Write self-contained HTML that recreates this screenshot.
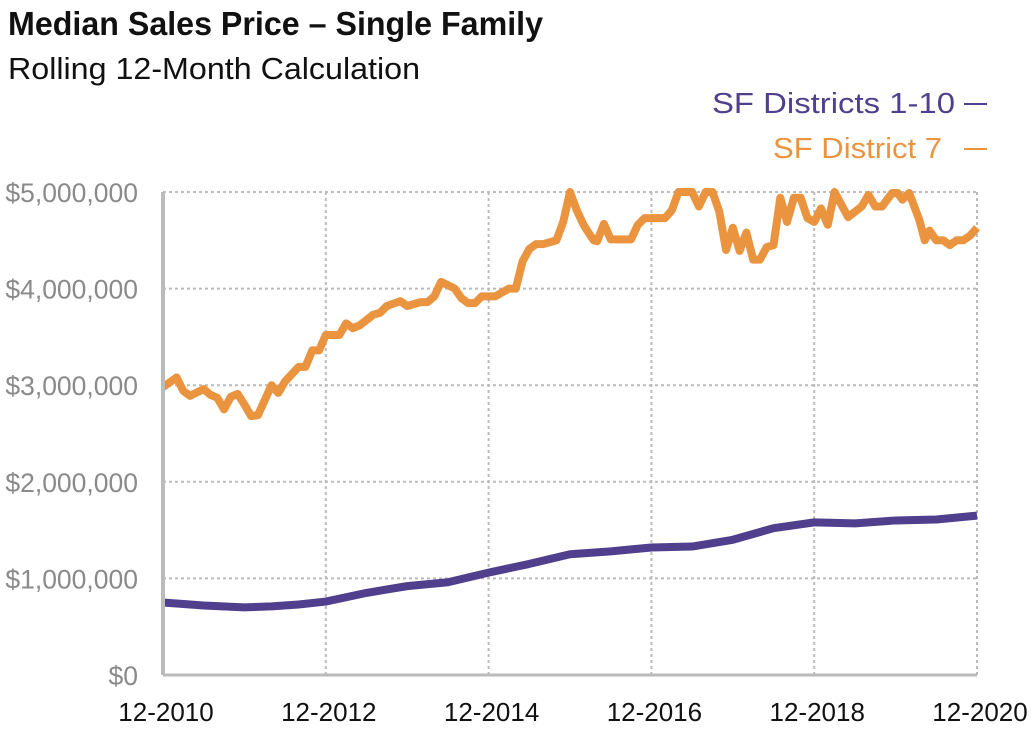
<!DOCTYPE html>
<html><head><meta charset="utf-8"><style>
body{margin:0;background:#fff;width:1032px;height:728px;overflow:hidden;font-family:"Liberation Sans",sans-serif}
</style></head><body>
<svg width="1032" height="728" id="svg" xmlns="http://www.w3.org/2000/svg">
<text x="8" y="35" font-size="33" font-weight="bold" fill="#111" textLength="535" lengthAdjust="spacingAndGlyphs">Median Sales Price – Single Family</text>
<text x="8" y="79" font-size="31" fill="#111" textLength="412" lengthAdjust="spacingAndGlyphs">Rolling 12-Month Calculation</text>
<g>
<text x="712" y="113" font-size="29" fill="#4f3f8c" textLength="243" lengthAdjust="spacingAndGlyphs">SF Districts 1-10</text>
<line x1="964" y1="104" x2="987" y2="104" stroke="#4f3f8c" stroke-width="2"/>
<text x="773" y="158" font-size="29" fill="#eb9440" textLength="169" lengthAdjust="spacingAndGlyphs">SF District 7</text>
<line x1="964" y1="149" x2="987" y2="149" stroke="#eb9440" stroke-width="2"/>
</g>
<g id="grid"></g><g id="series"></g><g id="axes"></g>
</svg>
<script>
const yTicks=[0,1,2,3,4,5];
const yTickLabels=["$0","$1,000,000","$2,000,000","$3,000,000","$4,000,000","$5,000,000"];
const xTicks=[0,24,48,72,96,120];
const xTickLabels=["12-2010","12-2012","12-2014","12-2016","12-2018","12-2020"];
const d7Months=[0,2,3,4,6,7,8,9,10,11,12,13,14,16,17,18,20,21,22,23,24,26,27,28,29,31,32,33,35,36,38,39,40,41,43,44,45,46,47,49,51,52,53,54,55,56,58,59,60,61,62,63,63.5,64,65,66,69,70,71,74,75,76,78,79,80,81,82,83,84,85,86,87,88,89,90,91,92,93,94,95,96,97,98,99,101,103,104,105,106,107.5,108.3,109,110,111.5,112.3,113,114,115,116,117,118,119,120];
const d7Values=[2.98,3.08,2.94,2.89,2.96,2.90,2.87,2.75,2.88,2.91,2.80,2.68,2.69,3.00,2.92,3.04,3.19,3.19,3.36,3.36,3.52,3.52,3.64,3.59,3.62,3.73,3.75,3.82,3.87,3.82,3.86,3.86,3.92,4.07,4.00,3.90,3.85,3.85,3.92,3.92,4.00,4.00,4.28,4.41,4.46,4.46,4.50,4.69,5.00,4.81,4.66,4.55,4.50,4.49,4.67,4.51,4.51,4.66,4.73,4.73,4.81,5.00,5.00,4.85,5.00,5.00,4.80,4.40,4.63,4.39,4.58,4.30,4.30,4.43,4.45,4.94,4.69,4.94,4.94,4.73,4.69,4.83,4.66,5.00,4.74,4.85,4.97,4.85,4.85,4.99,4.99,4.92,4.99,4.71,4.50,4.60,4.50,4.50,4.45,4.50,4.50,4.55,4.63];
const allMonths=[0,6,12,16,20,24,30,36,42,48,54,60,66,72,78,84,90,96,102,108,114,120];
const allValues=[0.75,0.72,0.70,0.71,0.73,0.76,0.85,0.92,0.96,1.06,1.15,1.25,1.28,1.32,1.33,1.40,1.52,1.58,1.57,1.60,1.61,1.65];
const X0=163,X1=977,Y0=675,Y1=192;
const xS=m=>X0+(X1-X0)*m/120, yS=v=>Y0-(Y0-Y1)*v/5;
const NS="http://www.w3.org/2000/svg";
function mk(t,a,p){const e=document.createElementNS(NS,t);for(const k in a)e.setAttribute(k,a[k]);p.appendChild(e);return e;}
const grid=document.getElementById('grid'),axes=document.getElementById('axes'),ser=document.getElementById('series');
yTicks.forEach((v,i)=>{
 if(v>0){const l=mk('line',{x1:X0,x2:X1,y1:yS(v),y2:yS(v),stroke:'#bbb','stroke-width':2,'stroke-dasharray':'3,3'},grid);
 
 }
 const t=mk('text',{x:138,y:yS(v)+10,'font-size':26.5,fill:'#8a8a8a','text-anchor':'end'},axes);t.textContent=yTickLabels[i];
 
 
});
xTicks.forEach((m,i)=>{
 if(m>0){const l=mk('line',{x1:xS(m),x2:xS(m),y1:Y1,y2:Y0,stroke:'#bbb','stroke-width':2,'stroke-dasharray':'3,3'},grid);
 
 }
 const t=mk('text',{x:xS(m)+3,y:721,'font-size':26,fill:'#111','text-anchor':'middle'},axes);t.textContent=xTickLabels[i];
 
 
});
const ax=mk('line',{x1:X0,x2:X0,y1:Y1,y2:Y0,stroke:'#bbb','stroke-width':4},axes);


const ax2=mk('line',{x1:X0,x2:X1,y1:Y0,y2:Y0,stroke:'#bbb','stroke-width':3},axes);


const p1=mk('polyline',{points:d7Months.map((m,i)=>xS(m)+','+yS(d7Values[i])).join(' '),fill:'none',stroke:'#eb9440','stroke-width':8,'stroke-linejoin':'round'},ser);


const p2=mk('polyline',{points:allMonths.map((m,i)=>xS(m)+','+yS(allValues[i])).join(' '),fill:'none',stroke:'#4f3f8c','stroke-width':8,'stroke-linejoin':'round'},ser);


</script>
</body></html>
